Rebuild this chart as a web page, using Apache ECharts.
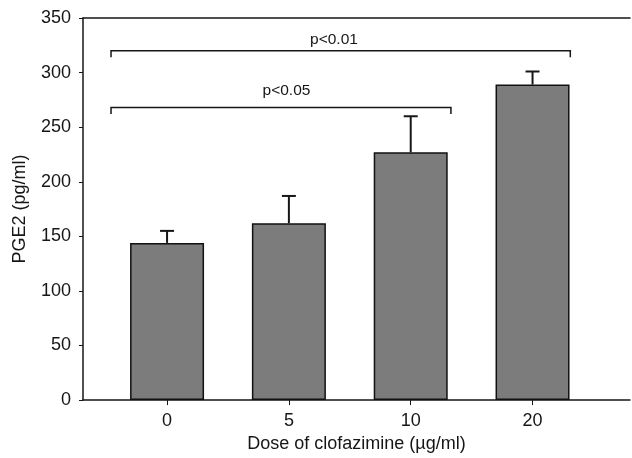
<!DOCTYPE html>
<html>
<head>
<meta charset="utf-8">
<script src="https://cdn.jsdelivr.net/npm/echarts@6/dist/echarts.min.js"></script>
<style>
  html, body { margin: 0; padding: 0; background: #fff; }
  #chart { width: 632px; height: 458px; }
</style>
</head>
<body>
<div id="chart"></div>
<script>
(function () {

    'use strict';

    // 剂量分组（横轴）
    var categories = ['0', '5', '10', '20'];
    // PGE2 均值 (pg/ml)
    var means = [144, 162, 227, 289];
    // 误差（只画上半截）
    var errors = [11, 25, 33, 12];
    // 显著性括号：起点、终点（按组序号）、高度
    var bracketFrom = [-0.46, -0.46];
    var bracketTo = [3.31, 2.33];
    var bracketY = [320, 268];
    // 括号上的文字及其位置
    var bracketText = ['p<0.01', 'p<0.05'];
    var bracketTextX = [1.37, 0.98];
    var bracketTextY = [330, 283];

    var font = 'Liberation Sans, Arial, sans-serif';
    var ink = '#161616';

    var idx = categories.map(function (c, i) { return i; });

    var barData = means.map(function (v, i) { return [i, v]; });
    var errData = means.map(function (v, i) { return [i, v, errors[i]]; });
    var bracketData = bracketText.map(function (t, i) {
        return [bracketFrom[i], bracketTo[i], bracketY[i], bracketTextX[i], bracketTextY[i], t];
    });

    var chart = echarts.init(document.getElementById('chart'));

    var option = {
        backgroundColor: '#fff',
        animation: false,
        grid: { left: 83, right: 2, top: 18, bottom: 54 },
        xAxis: [{
            type: 'value',
            min: -0.69,
            max: 3.8,
            name: 'Dose of clofazimine (\u00b5g/ml)',
            nameLocation: 'middle',
            nameGap: 30,
            nameTextStyle: { fontFamily: font, fontSize: 18, color: ink },
            axisLine: { show: true, onZero: false, lineStyle: { color: ink, width: 1.5 } },
            axisTick: { show: true, customValues: idx, length: 5, lineStyle: { color: ink } },
            axisLabel: {
                customValues: idx,
                margin: 12,
                fontFamily: font, fontSize: 18, color: ink,
                formatter: function (v) { return categories[Math.round(v)]; }
            },
            splitLine: { show: false }
        }, {
            // 顶部边线
            type: 'value',
            position: 'top',
            min: -0.69,
            max: 3.8,
            axisLine: { show: true, onZero: false, lineStyle: { color: ink, width: 1.5 } },
            axisTick: { show: false },
            axisLabel: { show: false },
            splitLine: { show: false }
        }],
        yAxis: {
            type: 'value',
            min: 0,
            max: 350,
            interval: 50,
            name: 'PGE2 (pg/ml)',
            nameLocation: 'middle',
            nameGap: 54,
            nameTextStyle: { fontFamily: font, fontSize: 18, color: ink },
            axisLine: { show: true, onZero: false, lineStyle: { color: ink, width: 1.5 } },
            axisTick: { show: true, length: 4, lineStyle: { color: ink } },
            axisLabel: { fontFamily: font, fontSize: 18, color: ink, margin: 12 },
            splitLine: { show: false }
        },
        series: [{
            type: 'bar',
            data: barData,
            barWidth: 74,
            itemStyle: { color: '#7c7c7c', borderColor: '#111', borderWidth: 1.5 },
            z: 2
        }, {
            // 误差线
            type: 'custom',
            data: errData,
            z: 3,
            renderItem: function (params, api) {
                var top = api.coord([api.value(0), api.value(1) + api.value(2)]);
                var base = api.coord([api.value(0), api.value(1)]);
                var style = { stroke: ink, lineWidth: 2, fill: null };
                return {
                    type: 'group',
                    children: [{
                        type: 'line',
                        shape: { x1: base[0], y1: base[1], x2: top[0], y2: top[1] },
                        style: style
                    }, {
                        type: 'line',
                        shape: { x1: top[0] - 7, y1: top[1], x2: top[0] + 7, y2: top[1] },
                        style: style
                    }]
                };
            }
        }, {
            // 显著性括号
            type: 'custom',
            data: bracketData,
            z: 3,
            renderItem: function (params, api) {
                var item = bracketData[params.dataIndex];
                var a = api.coord([item[0], item[2]]);
                var b = api.coord([item[1], item[2]]);
                var t = api.coord([item[3], item[4]]);
                var drop = api.size([0, 6])[1];
                return {
                    type: 'group',
                    children: [{
                        type: 'polyline',
                        shape: { points: [[a[0], a[1] + drop], a, b, [b[0], b[1] + drop]] },
                        style: { stroke: ink, lineWidth: 1.5, fill: null }
                    }, {
                        type: 'text',
                        style: {
                            text: item[5],
                            x: t[0],
                            y: t[1],
                            align: 'center',
                            verticalAlign: 'middle',
                            font: '15.5px ' + font,
                            fill: ink
                        }
                    }]
                };
            }
        }]
    };

    chart.setOption(option);
})();
</script>
</body>
</html>
